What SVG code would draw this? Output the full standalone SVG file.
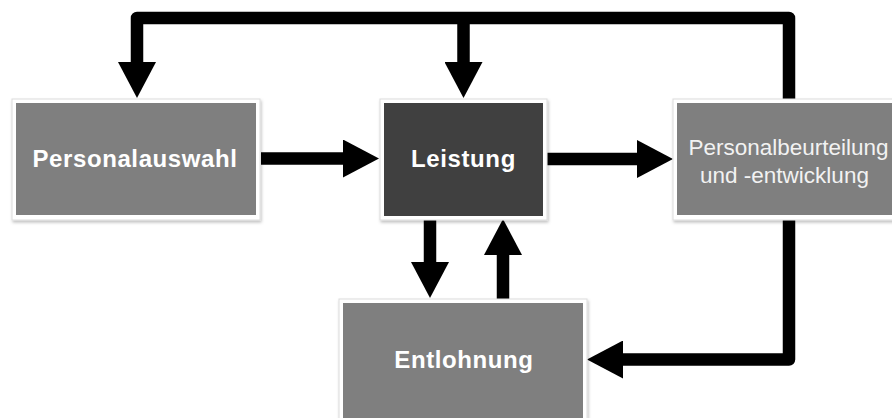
<svg xmlns="http://www.w3.org/2000/svg" width="892" height="418" viewBox="0 0 892 418">
  <style>
    .frame { fill: #ffffff; stroke: #dcdcdc; stroke-width: 1; filter: url(#shadow); }
    .box { fill: #7f7f7f; }
    .box.dark { fill: #404040; }
    .label { font-family: "Liberation Sans", Arial, sans-serif; font-size: 24px; font-weight: bold; fill: #ffffff; text-anchor: middle; letter-spacing: 0.6px; }
    .label.plain { font-size: 22.5px; font-weight: normal; fill: #f2f2f2; letter-spacing: 0; }
    .link { fill: none; stroke: #000000; stroke-width: 12.5; stroke-linejoin: round; marker-end: url(#head); }
  </style>
  <defs>
    <filter id="shadow" x="-10%" y="-10%" width="125%" height="130%">
      <feDropShadow dx="1" dy="2" stdDeviation="1.5" flood-color="#000000" flood-opacity="0.25"/>
    </filter>
    <marker id="head" viewBox="0 0 36 38" refX="0" refY="19" markerWidth="36" markerHeight="38" markerUnits="userSpaceOnUse" orient="auto">
      <path d="M0,0 L36,19 L0,38 Z" fill="#000000"/>
    </marker>
  </defs>

  <g id="connectors">
    <path class="link" d="M789,100 V18 H137 V62"/>
    <path class="link" d="M463.5,18 V62"/>
    <path class="link" d="M261,158.5 H343"/>
    <path class="link" d="M547,159 H637"/>
    <path class="link" d="M430,220 V262"/>
    <path class="link" d="M503,299 V255"/>
    <path class="link" d="M789,220 V359.5 H623"/>
  </g>

  <g id="personalauswahl">
    <rect class="frame" x="12" y="99" width="248" height="121"/>
    <rect class="box" x="16" y="103" width="240" height="112"/>
    <text class="label" x="135" y="167">Personalauswahl</text>
  </g>

  <g id="leistung">
    <rect class="frame" x="380" y="99" width="167" height="121"/>
    <rect class="box dark" x="384" y="103" width="159" height="113"/>
    <text class="label" x="463.5" y="167">Leistung</text>
  </g>

  <g id="personalbeurteilung">
    <rect class="frame" x="673" y="99" width="248" height="121"/>
    <rect class="box" x="677" y="103" width="240" height="112"/>
    <text class="label plain" x="788.5" y="155">Personalbeurteilung</text>
    <text class="label plain" x="784.5" y="183">und -entwicklung</text>
  </g>

  <g id="entlohnung">
    <rect class="frame" x="339" y="299" width="248" height="121"/>
    <rect class="box" x="343" y="303" width="240" height="120"/>
    <text class="label" x="464" y="368">Entlohnung</text>
  </g>
</svg>
